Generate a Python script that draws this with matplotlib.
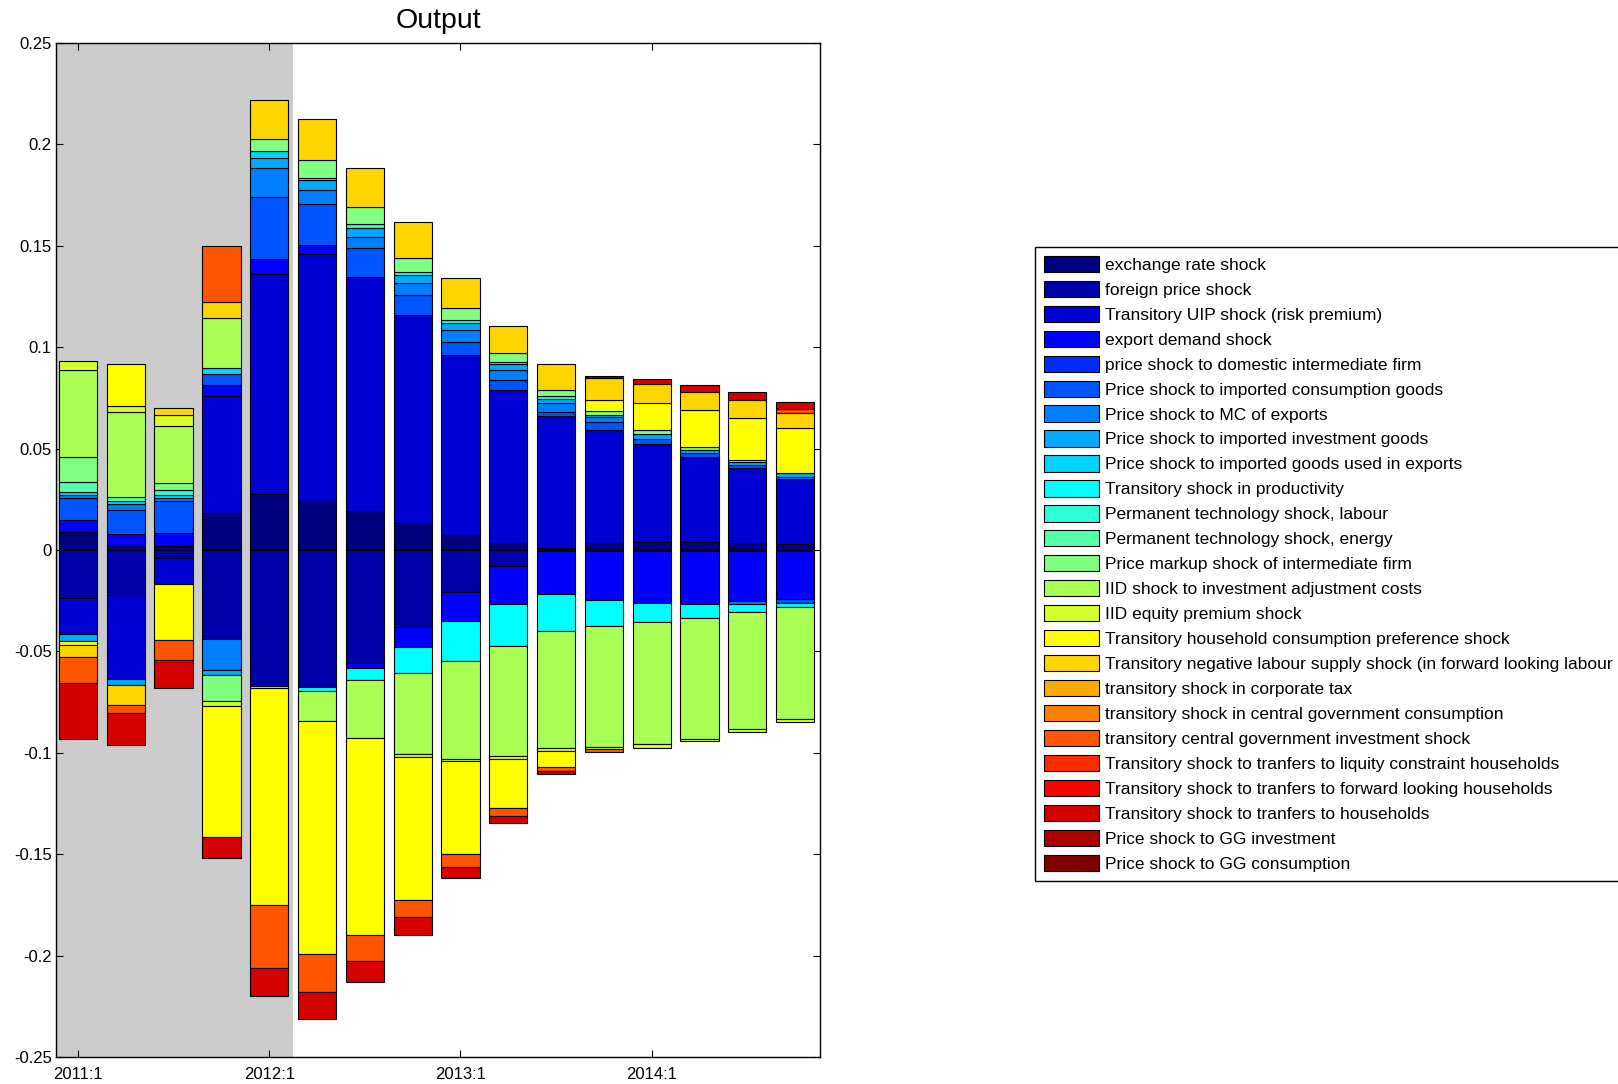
import numpy as np
import matplotlib
matplotlib.use("Agg")
import matplotlib.pyplot as plt

plt.rcParams['font.family'] = ['Liberation Sans', 'DejaVu Sans']

periods = ["2011:1", "2011:2", "2011:3", "2011:4", "2012:1", "2012:2", "2012:3", "2012:4",
           "2013:1", "2013:2", "2013:3", "2013:4", "2014:1", "2014:2", "2014:3", "2014:4"]
tick_labels = ["2011:1", "2012:1", "2013:1", "2014:1"]
ytick_vals = [-0.25, -0.2, -0.15, -0.1, -0.05, 0, 0.05, 0.1, 0.15, 0.2, 0.25]
ytick_labels = ["-0.25", "-0.2", "-0.15", "-0.1", "-0.05", "0", "0.05", "0.1", "0.15", "0.2", "0.25"]

shock_names = [
    "exchange rate shock",
    "foreign price shock",
    "Transitory UIP shock (risk premium)",
    "export demand shock",
    "price shock to domestic intermediate firm",
    "Price shock to imported consumption goods",
    "Price shock to MC of exports",
    "Price shock to imported investment goods",
    "Price shock to imported goods used in exports",
    "Transitory shock in productivity",
    "Permanent technology shock, labour",
    "Permanent technology shock, energy",
    "Price markup shock of intermediate firm",
    "IID shock to investment adjustment costs",
    "IID equity premium shock",
    "Transitory household consumption preference shock",
    "Transitory negative labour supply shock (in forward looking labour",
    "transitory shock in corporate tax",
    "transitory shock in central government consumption",
    "transitory central government investment shock",
    "Transitory shock to tranfers to liquity constraint households",
    "Transitory shock to tranfers to forward looking households",
    "Transitory shock to tranfers to households",
    "Price shock to GG investment",
    "Price shock to GG consumption",
]

exchange_rate = [0.009, 0.0027, 0.002, 0.018, 0.0277, 0.0244, 0.0192, 0.0134, 0.0073, 0.0035, 0.001, 0.0035, 0.004, 0.004, 0.0035, 0.0029]
foreign_price = [-0.0236, -0.0223, -0.004, -0.0438, -0.0669, -0.0677, -0.0557, -0.0379, -0.0206, -0.0078, -0.0006, -0.0006, -0.0007, -0.0006, -0.0006, -0.0006]
uip = [-0.0176, -0.0413, -0.013, 0.0579, 0.1086, 0.1218, 0.1156, 0.1023, 0.0887, 0.0756, 0.0649, 0.0558, 0.0484, 0.042, 0.0367, 0.0319]
export_demand = [0.006, 0.0054, 0.0065, 0.0053, 0.0071, 0.0041, -0.0025, -0.0099, -0.0145, -0.0189, -0.0209, -0.0242, -0.0254, -0.026, -0.0247, -0.0235]
dom_intermediate_price = [0, 0, 0, 0, 0, 0, 0, 0, 0, 0, 0, 0, 0, 0, 0, 0]
imp_consumption_price = [0.0108, 0.0117, 0.0156, 0.0054, 0.0309, 0.0201, 0.0143, 0.0099, 0.0066, 0.0046, 0.0021, 0.0038, 0.0025, 0.0016, 0.0015, -0.002]
mc_exports_price = [0.0015, 0.0027, 0.0015, -0.0152, 0.0143, 0.007, 0.0053, 0.0059, 0.0059, 0.0052, 0.0043, 0.0023, 0, 0, -0.0014, 0.0012]
imp_investment_price = [-0.0038, -0.0031, 0, -0.0025, 0.0046, 0.005, 0.0046, 0.004, 0.0036, 0.0027, 0.002, 0.0012, 0.0021, 0.0018, 0.0016, 0.0018]
imp_exports_price = [0.0012, 0.0016, 0.0014, 0.003, 0.0036, 0, 0, 0, 0, 0, 0, 0, 0, 0, 0, 0]
productivity = [0, 0, 0, 0, 0, -0.0016, -0.0057, -0.0128, -0.0198, -0.0204, -0.0184, -0.0125, -0.0093, -0.0069, -0.0038, -0.0019]
perm_tech_labour = [0, 0, 0.0027, 0, 0, 0.0008, 0.0017, 0.0016, 0.0013, 0.0011, 0.0016, 0, 0, 0, 0, 0]
perm_tech_energy = [0.0052, 0.002, 0, 0, 0, 0, 0, 0, 0, 0, 0, 0, 0, 0, 0, 0]
price_markup = [0.0124, 0, 0.0031, -0.0131, 0.0057, 0.009, 0.0085, 0.0071, 0.0057, 0.0046, 0.0032, 0.0019, 0.0023, 0.0015, 0.001, 0]
iid_investment = [0.0428, 0.0418, 0.0283, 0.0247, 0, -0.0149, -0.029, -0.04, -0.048, -0.0545, -0.0579, -0.0598, -0.0603, -0.0595, -0.0578, -0.0553]
iid_equity = [0.0043, 0.0033, 0.0053, -0.0022, -0.0012, 0, 0, -0.0013, -0.0013, -0.0015, -0.0012, -0.001, -0.0019, -0.0014, -0.0014, -0.0014]
consumption_pref = [-0.0016, 0.0204, -0.0275, -0.0645, -0.107, -0.1151, -0.0967, -0.0706, -0.0458, -0.0242, -0.0079, 0.0053, 0.013, 0.0181, 0.0209, 0.0222]
labour_supply = [-0.0061, -0.0099, 0.0034, 0.008, 0.0192, 0.0203, 0.0191, 0.0173, 0.0149, 0.0132, 0.0125, 0.011, 0.0097, 0.0091, 0.0086, 0.0077]
corporate_tax = [0, 0, 0, 0, 0, 0, 0, 0, 0, 0, 0, 0, 0, 0, 0, 0]
gov_consumption = [0, 0, 0, 0, 0, 0, 0, 0, 0, 0, 0, 0, 0, 0, 0, 0]
gov_investment = [-0.0129, -0.0038, -0.0097, 0.0277, -0.0311, -0.0188, -0.0129, -0.0085, -0.0062, -0.0037, -0.0019, -0.0015, 0, 0, 0, 0.0016]
transfers_liquidity = [0, 0, 0, 0, 0, 0, 0, 0, 0, 0, 0, 0, 0, 0, 0, 0]
transfers_forward = [0, 0, 0, 0, 0, 0, 0, 0, 0, 0, 0, 0, 0, 0, 0, 0]
transfers_households = [-0.0274, -0.0156, -0.0138, -0.0107, -0.0137, -0.0134, -0.0103, -0.0086, -0.0053, -0.0037, -0.0015, 0, 0.0022, 0.0034, 0.0039, 0.0038]
gg_investment_price = [0, 0, 0, 0, 0, 0, 0, 0, 0, 0, 0, 0, 0, 0, 0, 0]
gg_consumption_price = [0, 0, 0, 0, 0, 0, 0, 0, 0, 0, 0, 0.0008, 0, 0, 0, 0]

series = [exchange_rate, foreign_price, uip, export_demand, dom_intermediate_price,
          imp_consumption_price, mc_exports_price, imp_investment_price, imp_exports_price,
          productivity, perm_tech_labour, perm_tech_energy, price_markup, iid_investment,
          iid_equity, consumption_pref, labour_supply, corporate_tax, gov_consumption,
          gov_investment, transfers_liquidity, transfers_forward, transfers_households,
          gg_investment_price, gg_consumption_price]


def matlab_jet(n):
    t = np.linspace(0, 1, n)
    r = np.clip(np.minimum(4 * t - 1.5, -4 * t + 4.5), 0, 1)
    g = np.clip(np.minimum(4 * t - 0.5, -4 * t + 3.5), 0, 1)
    b = np.clip(np.minimum(4 * t + 0.5, -4 * t + 2.5), 0, 1)
    return np.stack([r, g, b], axis=1)


colors = matlab_jet(len(series))

fig = plt.figure(figsize=(16.18, 10.84), dpi=100)
ax = fig.add_axes([56 / 1618, 1 - 1057 / 1084, (820 - 56) / 1618, (1057 - 43) / 1084])

x = np.arange(1, len(periods) + 1)
xlim = (0.54, 16.52)
ax.axvspan(xlim[0], 5.5, color='#cccccc', zorder=0, lw=0)

pos_base = np.zeros(len(x))
neg_base = np.zeros(len(x))
handles = []
for vals, col, name in zip(series, colors, shock_names):
    v = np.array(vals, dtype=float)
    pos = np.where(v > 0, v, 0)
    neg = np.where(v < 0, v, 0)
    mp = pos > 0
    mn = neg < 0
    if mp.any():
        ax.bar(x[mp], pos[mp], bottom=pos_base[mp], width=0.8, color=col,
               edgecolor='black', linewidth=0.8, zorder=2)
    if mn.any():
        ax.bar(x[mn], neg[mn], bottom=neg_base[mn], width=0.8, color=col,
               edgecolor='black', linewidth=0.8, zorder=2)
    pos_base += pos
    neg_base += neg
    handles.append(plt.Rectangle((0, 0), 1, 1, facecolor=col, edgecolor='black', linewidth=0.8))

ax.set_xlim(*xlim)
ax.set_ylim(-0.25, 0.25)
ax.set_xticks([1, 5, 9, 13])
ax.set_xticklabels(tick_labels, fontsize=12)
ax.set_yticks(ytick_vals)
ax.set_yticklabels(ytick_labels, fontsize=12)
ax.tick_params(direction='in', top=True, right=True, length=5, width=0.8, pad=3)
ax.tick_params(axis='x', pad=7)
for sp in ax.spines.values():
    sp.set_linewidth(1.0)
ax.set_title("Output", fontsize=20.5, pad=11)

fig.legend(handles, shock_names, loc='upper left',
           bbox_to_anchor=(1035 / 1618, 1 - 247 / 1084), bbox_transform=fig.transFigure,
           fontsize=12.55, frameon=True, fancybox=False, framealpha=1, edgecolor='black',
           borderaxespad=0, borderpad=0.5, handlelength=3.15, handleheight=1.05,
           handletextpad=0.38, labelspacing=0.455)

fig.savefig("out.png", dpi=100)
